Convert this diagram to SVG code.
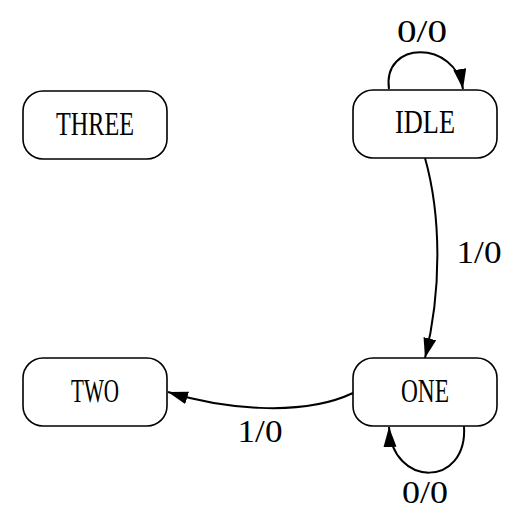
<svg xmlns="http://www.w3.org/2000/svg" width="530" height="528" viewBox="0 0 530 528">
<style>
.node rect{fill:#fff;stroke:#000;stroke-width:1.6}
text{font-family:"Liberation Serif",serif;fill:#000}
.nt{font-size:33px}
.lt{font-size:31px}
.edge{fill:none;stroke:#000;stroke-width:2}
</style>
<defs>
<marker id="arr" markerUnits="userSpaceOnUse" markerWidth="22" markerHeight="14" refX="20" refY="6.5" orient="auto" viewBox="0 0 22 14">
<path d="M0,0 L20,6.5 L0,13 z" fill="#000"/>
</marker>
</defs>
<g id="connectors">
<path class="edge" d="M389,89 C382,40 455,40 463,89" marker-end="url(#arr)"/>
<path class="edge" d="M425,158 C441,215 442,290 425,358" marker-end="url(#arr)"/>
<path class="edge" d="M353,393 C300,418 220,408 168,392" marker-end="url(#arr)"/>
<path class="edge" d="M464,426 C468,488 392,488 389,427" marker-end="url(#arr)"/>
<text class="lt" x="422" y="42" text-anchor="middle" textLength="50" lengthAdjust="spacingAndGlyphs">0/0</text>
<text class="lt" x="479" y="263" text-anchor="middle" textLength="45" lengthAdjust="spacingAndGlyphs">1/0</text>
<text class="lt" x="260" y="442" text-anchor="middle" textLength="45" lengthAdjust="spacingAndGlyphs">1/0</text>
<text class="lt" x="425" y="503" text-anchor="middle" textLength="46" lengthAdjust="spacingAndGlyphs">0/0</text>
</g>
<g id="THREE" class="node">
<rect x="23" y="91" width="144" height="68" rx="20"/>
<text class="nt" x="95" y="135" text-anchor="middle" textLength="78" lengthAdjust="spacingAndGlyphs">THREE</text>
</g>
<g id="IDLE" class="node">
<rect x="353" y="90" width="144" height="68" rx="20"/>
<text class="nt" x="425" y="133" text-anchor="middle" textLength="60" lengthAdjust="spacingAndGlyphs">IDLE</text>
</g>
<g id="TWO" class="node">
<rect x="23" y="358" width="144" height="68" rx="20"/>
<text class="nt" x="95" y="402" text-anchor="middle" textLength="48" lengthAdjust="spacingAndGlyphs">TWO</text>
</g>
<g id="ONE" class="node">
<rect x="353" y="358" width="144" height="68" rx="20"/>
<text class="nt" x="425" y="402" text-anchor="middle" textLength="48" lengthAdjust="spacingAndGlyphs">ONE</text>
</g>
</svg>
